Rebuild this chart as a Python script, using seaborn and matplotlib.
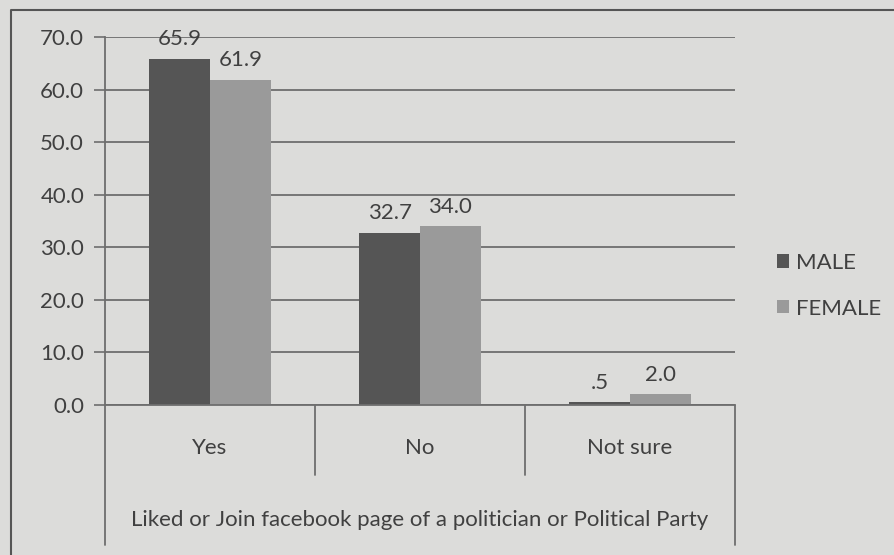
import numpy as np
import pandas as pd
import matplotlib.pyplot as plt
import seaborn as sns
from matplotlib.lines import Line2D

# ==== データ ====
categories = ["Yes", "No", "Not sure"]
male = [65.9, 32.7, 0.5]
female = [61.9, 34.0, 2.0]
series = ["MALE", "FEMALE"]
value_labels = {"MALE": ["65.9", "32.7", ".5"], "FEMALE": ["61.9", "34.0", "2.0"]}
y_ticks = [0, 10, 20, 30, 40, 50, 60, 70]
group_title = "Liked or Join facebook page of a politician or Political Party"

BG = "#dcdcda"
LINE = "#6e6e6e"
TEXT = "#404040"
FS = 16

df = pd.DataFrame({
    "category": categories * 2,
    "sex": ["MALE"] * len(categories) + ["FEMALE"] * len(categories),
    "value": male + female,
})

sns.set_style("white")
plt.rcParams["font.family"] = ["Lato", "DejaVu Sans"]

fig = plt.figure(figsize=(8.95, 5.55), dpi=100, facecolor=BG)
ax = fig.add_axes([0.1173, 0.2703, 0.7039, 0.6630])
ax.set_facecolor(BG)

sns.barplot(data=df, x="category", y="value", hue="sex", order=categories,
            hue_order=series, palette=["#555555", "#9a9a9a"], width=0.58,
            saturation=1, ax=ax, zorder=3, legend=True, linewidth=0)

# ==== 値ラベル ====
for cont, name in zip(ax.containers, series):
    ax.bar_label(cont, labels=value_labels[name], padding=7, fontsize=FS, color=TEXT)

# ==== 軸 ====
ax.set_ylim(0, 70)
ax.set_xlim(-0.5, 2.5)
ax.set_yticks(y_ticks)
ax.set_yticklabels([f"{v:.1f}" for v in y_ticks], fontsize=FS, color=TEXT)
ax.tick_params(axis="y", length=8, width=1.2, color=LINE, pad=7, left=True)
ax.tick_params(axis="x", length=0, pad=24, labelsize=FS, labelcolor=TEXT)
ax.set_xlabel("")
ax.set_ylabel("")
ax.yaxis.grid(True, color=LINE, linewidth=1.3, zorder=0)
ax.set_axisbelow(True)
for s in ["top", "right", "bottom"]:
    ax.spines[s].set_visible(False)
ax.spines["left"].set_color(LINE)
ax.spines["left"].set_linewidth(1.3)

# 多段カテゴリ軸の区切り線
tr = ax.get_xaxis_transform()
ax.plot([-0.5, -0.5], [0, -0.38], transform=tr, color=LINE, lw=1.3, clip_on=False)
ax.plot([2.5, 2.5], [0, -0.38], transform=tr, color=LINE, lw=1.3, clip_on=False)
for xb in [0.5, 1.5]:
    ax.plot([xb, xb], [0, -0.19], transform=tr, color=LINE, lw=1.3, clip_on=False)
ax.plot([-0.5, 2.5], [0, 0], transform=tr, color=LINE, lw=1.3, clip_on=False, zorder=4)
ax.text(1.0, -0.313, group_title, transform=tr, ha="center", va="center",
        fontsize=FS, color=TEXT)

# 外枠
fig.add_artist(Line2D([0.012, 0.012, 1.0], [0.0, 0.982, 0.982],
                      transform=fig.transFigure, color="#555555", lw=1.5))

# ==== 凡例 ====
leg = ax.legend(loc="center left", bbox_to_anchor=(0.846, 0.485),
                bbox_transform=fig.transFigure, frameon=False, fontsize=FS,
                handlelength=0.55, handleheight=0.55, handletextpad=0.3,
                labelspacing=1.15)
for t in leg.get_texts():
    t.set_color(TEXT)

fig.savefig("out.png", dpi=100, facecolor=BG)
